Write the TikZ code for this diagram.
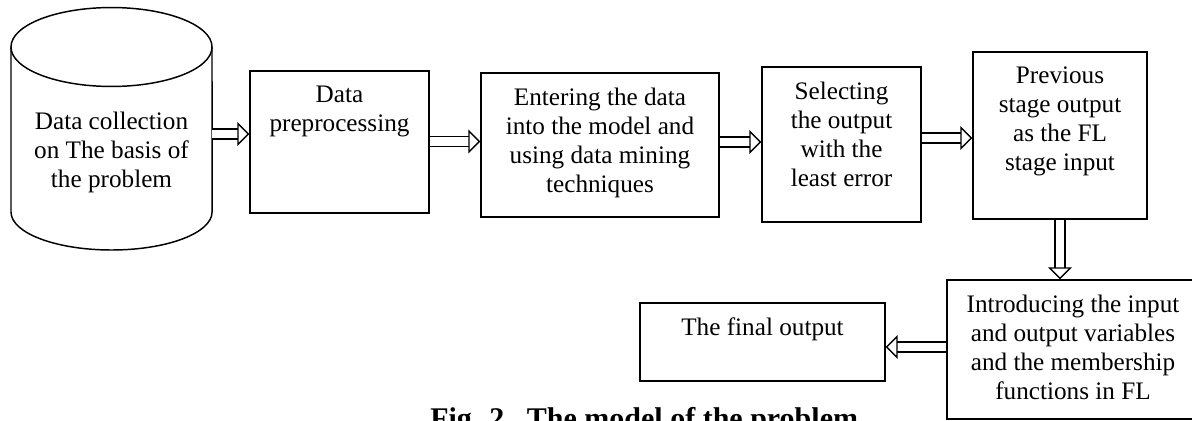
\documentclass[tikz,border=0pt]{standalone}
\usepackage{fontspec}
\setmainfont{Liberation Serif}
\usetikzlibrary{arrows.meta,positioning,shapes.geometric}

\begin{document}
\begin{tikzpicture}[x=0.75pt,y=-0.75pt,
  stagebox/.style={draw,line width=1.1pt,inner sep=0pt},
  stagefont/.style={align=center,inner sep=0pt,font=\fontsize{18.9}{21.75}\selectfont},
  boxtext/.style={stagefont,anchor=north,yshift=-11.5pt},
  flowarrow/.style={double,double distance=6.5pt,line width=1pt,
    -{Triangle[open,length=9pt,width=18pt,line width=1pt]}}
]
  \useasboundingbox (0,0) rectangle (1192,421);
  % Data source (cylinder)
  \node[inner sep=0pt,minimum width=150.75pt,minimum height=181.5pt] (data) at (111.5,129) {};
  \draw[line width=1.1pt] (11,47) -- (11,212)
    arc[start angle=180,end angle=360,x radius=75.4pt,y radius=28.5pt] -- (212,47);
  \draw[line width=1.1pt] (111.5,47) ellipse[x radius=75.4pt,y radius=29.6pt];
  \node[stagefont] (datatext) at (111.5,152)
    {Data collection\\on The basis of\\the problem};
  % Stages
  \node[stagebox,minimum width=134.25pt,minimum height=106.5pt,
    label={[boxtext]north:{Data\\preprocessing}}] (prep) at (339.5,142) {};
  \node[stagebox,minimum width=178.5pt,minimum height=108pt,
    label={[boxtext]north:{Entering the data\\into the model and\\using data mining\\techniques}}] (mine) at (600,145) {};
  \node[stagebox,minimum width=119.25pt,minimum height=116.25pt,
    label={[boxtext]north:{Selecting\\the output\\with the\\least error}}] (select) at (841.5,144.5) {};
  \node[stagebox,minimum width=130.5pt,minimum height=125.25pt,
    label={[boxtext]north:{Previous\\stage output\\as the FL\\stage input}}] (prev) at (1060,135.5) {};
  \node[stagebox,minimum width=201pt,minimum height=104.25pt,
    label={[boxtext,xshift=-6pt]north:{Introducing the input\\and output variables\\and the membership\\functions in FL}}] (fuzzy) at (1081,349.5) {};
  \node[stagebox,minimum width=183.75pt,minimum height=58.5pt,
    label={[boxtext]north:{The final output}}] (final) at (762.5,342) {};
  % Arrows
  \draw[flowarrow] (data.east |- 0,134) -- (prep.west |- 0,134);
  \draw[flowarrow] (prep.east |- 0,141.5) -- (mine.west |- 0,141.5);
  \draw[flowarrow] (mine.east |- 0,142) -- (select.west |- 0,142);
  \draw[flowarrow] (select.east |- 0,138) -- (prev.west |- 0,138);
  \draw[flowarrow] (prev.south) -- (prev.south |- fuzzy.north);
  \draw[flowarrow] (fuzzy.west |- 0,347) -- (final.east |- 0,347);
  % Caption
  \node[anchor=base west,inner sep=0pt,font=\fontsize{22.5}{27}\selectfont\bfseries]
    (caption) at (430,428) {Fig. 2.\ \ The model of the problem};
\end{tikzpicture}
\end{document}
